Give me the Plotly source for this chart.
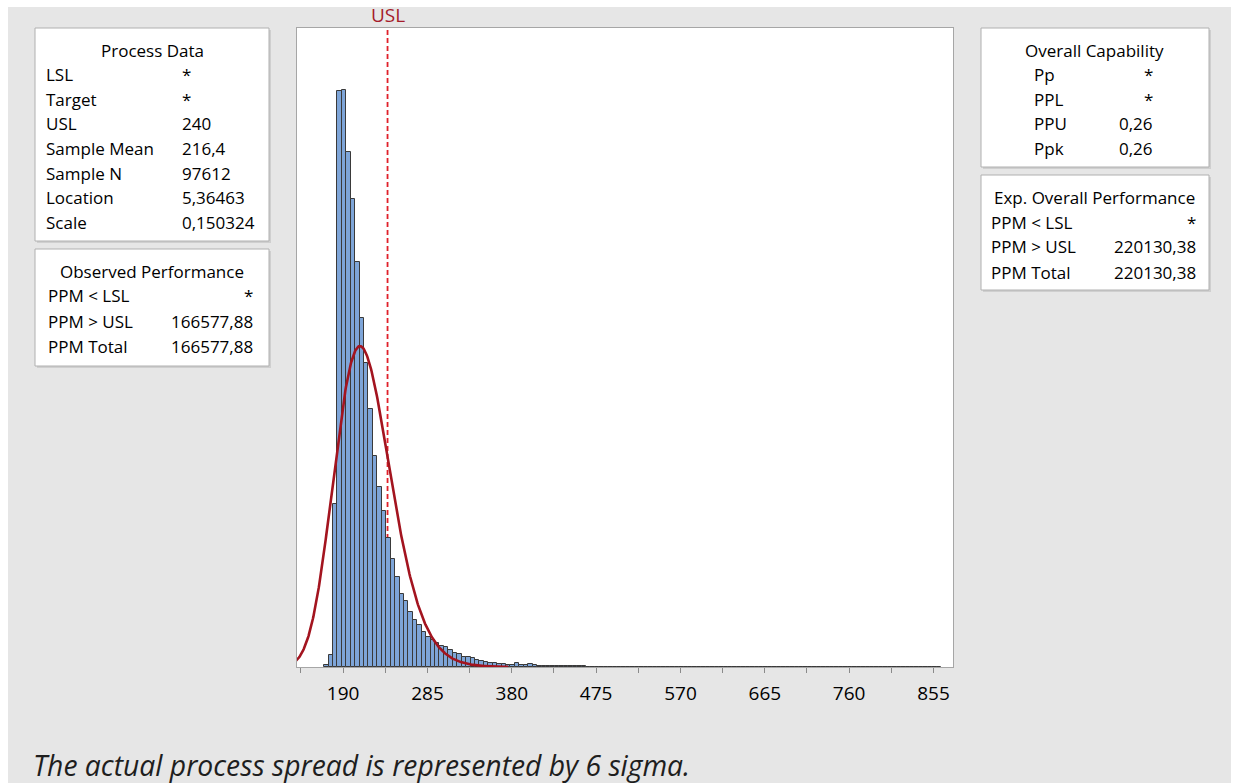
import numpy as np
import plotly.graph_objects as go

# ---------------- data ----------------
BIN_WIDTH = 5
BIN_MIDS = [171 + 5 * i for i in range(139)]  # 171 ... 861
COUNTS = [
    38, 229, 3104, 11007, 11021, 9842, 8939, 7730, 6672, 5801,
    4922, 4030, 3438, 2985, 2470, 2057, 1713, 1394, 1260, 1045,
    898, 802, 674, 579, 520, 450, 400, 385, 320, 270,
    255, 200, 185, 165, 135, 115, 95, 80, 70, 62,
    52, 45, 40, 75, 38, 35, 65, 30, 28, 25,
    22, 22, 18, 17, 15, 14, 12, 12, 10, 9,
    9, 8, 7, 6, 6, 5, 5, 4, 4, 4,
    6, 3, 3, 3, 2, 4, 3, 2, 2, 3,
    2, 2, 1, 2, 1, 1, 2, 1, 1, 1,
    1, 1, 1, 1, 1, 1, 1, 1, 1, 1,
    1, 1, 1, 1, 1, 1, 1, 1, 1, 1,
    1, 1, 1, 1, 1, 1, 1, 1, 1, 1,
    1, 1, 1, 1, 1, 1, 1, 1, 1, 1,
    1, 1, 1, 1, 1, 1, 1, 1, 1,
]

USL = 240
SAMPLE_N = 97612
LOCATION = 5.36463
SCALE = 0.150324
CURVE_RANGE = [136, 376]

TICK_VALS = [190, 285, 380, 475, 570, 665, 760, 855]
X_RANGE = [138, 877]
Y_RANGE = [0, 12205]

PROCESS_LABELS = ["LSL", "Target", "USL", "Sample Mean", "Sample N", "Location", "Scale"]
PROCESS_VALUES = ["*", "*", "240", "216,4", "97612", "5,36463", "0,150324"]
OBS_LABELS = ["PPM < LSL", "PPM > USL", "PPM Total"]
OBS_VALUES = ["*", "166577,88", "166577,88"]
CAP_LABELS = ["Pp", "PPL", "PPU", "Ppk"]
CAP_VALUES = ["*", "*", "0,26", "0,26"]
EXP_LABELS = ["PPM < LSL", "PPM > USL", "PPM Total"]
EXP_VALUES = ["*", "220130,38", "220130,38"]
CAPTION = "The actual process spread is represented by 6 sigma."

# ---------------- layout helpers ----------------
W, H = 1239, 783
L, R, T, B = 297, 953, 28, 667
FONT = "Open Sans"
BOX_FS = 17
TXT = "#000000"


def px(x):
    return (x - L) / (R - L)


def py(y):
    return (B - y) / (B - T)


# fitted lognormal curve from the displayed parameters
cx = np.linspace(CURVE_RANGE[0], CURVE_RANGE[1], 400)
pdf = np.exp(-((np.log(cx) - LOCATION) ** 2) / (2 * SCALE ** 2)) / (cx * SCALE * np.sqrt(2 * np.pi))
cy = pdf * SAMPLE_N * BIN_WIDTH

fig = go.Figure()
fig.add_trace(go.Bar(
    x=BIN_MIDS, y=COUNTS, width=BIN_WIDTH,
    marker=dict(color="#7EA5D8", line=dict(color="#3a3a3a", width=1)),
    hoverinfo="skip",
))
fig.add_trace(go.Scatter(
    x=cx, y=cy, mode="lines",
    line=dict(color="#A3141F", width=2.6), hoverinfo="skip",
))

shapes = []
# white strips around gray panel
shapes.append(dict(type="rect", xref="paper", yref="paper", x0=px(0), x1=px(8), y0=py(0), y1=py(H),
                   fillcolor="#ffffff", line=dict(width=0), layer="below"))
shapes.append(dict(type="rect", xref="paper", yref="paper", x0=px(0), x1=px(W), y0=py(0), y1=py(7),
                   fillcolor="#ffffff", line=dict(width=0), layer="below"))
shapes.append(dict(type="rect", xref="paper", yref="paper", x0=px(1231), x1=px(W), y0=py(0), y1=py(H),
                   fillcolor="#ffffff", line=dict(width=0), layer="below"))

# USL line (behind bars)
shapes.append(dict(type="line", xref="x", yref="paper", x0=USL, x1=USL, y0=0, y1=1,
                   line=dict(color="#E0202A", width=1.8, dash="5px,3px"), layer="below"))


def box(x0, y0, x1, y1):
    shapes.append(dict(type="rect", xref="paper", yref="paper",
                       x0=px(x0 + 2), x1=px(x1 + 2), y0=py(y0 + 2), y1=py(y1 + 2),
                       fillcolor="#cfcfcf", line=dict(width=0)))
    shapes.append(dict(type="rect", xref="paper", yref="paper",
                       x0=px(x0), x1=px(x1), y0=py(y0), y1=py(y1),
                       fillcolor="white", line=dict(color="#b0b0b0", width=1)))


box(35, 28, 269, 241)
box(35, 249, 269, 366)
box(981, 28, 1209, 167)
box(981, 175, 1209, 290)

ann = []


def text(x, y, s, anchor="left", size=BOX_FS, color=TXT, family=FONT):
    ann.append(dict(x=px(x), y=py(y), xref="paper", yref="paper", text=s, showarrow=False,
                    xanchor=anchor, yanchor="middle", font=dict(family=family, size=size, color=color)))


# Process Data
text(152, 50, "Process Data", "center")
rows = [74, 99, 124, 148, 173, 198, 223]
for lab, val, y in zip(PROCESS_LABELS, PROCESS_VALUES, rows):
    text(43.5, y, lab)
    text(179.5, y, val)

# Observed Performance
text(152, 271, "Observed Performance", "center")
for lab, val, y in zip(OBS_LABELS, OBS_VALUES, [296, 321, 346]):
    text(45.5, y, lab)
    text(255, y, val, "right")

# Overall Capability
text(1094, 50, "Overall Capability", "center")
for lab, val, y in zip(CAP_LABELS, CAP_VALUES, [74, 99, 124, 148]):
    text(1031.5, y, lab)
    text(1155, y, val, "right")

# Exp. Overall Performance
text(1094, 197, "Exp. Overall Performance", "center")
for lab, val, y in zip(EXP_LABELS, EXP_VALUES, [222, 247, 272]):
    text(988.5, y, lab)
    text(1198, y, val, "right")

# USL label
ann.append(dict(x=USL, y=py(15), xref="x", yref="paper", text="USL", showarrow=False,
                xanchor="center", yanchor="middle", font=dict(family=FONT, size=19, color="#A51C2A")))

# caption
ann.append(dict(x=px(31), y=py(765), xref="paper", yref="paper", text="<i>" + CAPTION + "</i>",
                showarrow=False, xanchor="left", yanchor="middle",
                font=dict(family=FONT, size=28.3, color="#1e1e1e")))

fig.update_layout(
    width=W, height=H,
    margin=dict(l=L, r=W - R, t=T, b=H - B, pad=0),
    paper_bgcolor="#e6e6e6", plot_bgcolor="white",
    showlegend=False, bargap=0,
    shapes=shapes, annotations=ann,
    xaxis=dict(range=X_RANGE, tickvals=TICK_VALS, ticks="outside", ticklen=5, tickcolor="#8a8a8a",
               showline=True, mirror=True, linecolor="#a6a6a6", linewidth=1,
               showgrid=False, zeroline=False, ticklabelstandoff=4,
               tickfont=dict(family=FONT, size=19, color="#000000"),
               minor=dict(tickvals=[142.5 + 95 * i for i in range(8)], ticks="outside", ticklen=5,
                          tickcolor="#8a8a8a", showgrid=False)),
    yaxis=dict(range=Y_RANGE, showticklabels=False, ticks="", showline=True, mirror=True,
               linecolor="#a6a6a6", linewidth=1, showgrid=False, zeroline=False),
)

fig.write_html("out.html")
